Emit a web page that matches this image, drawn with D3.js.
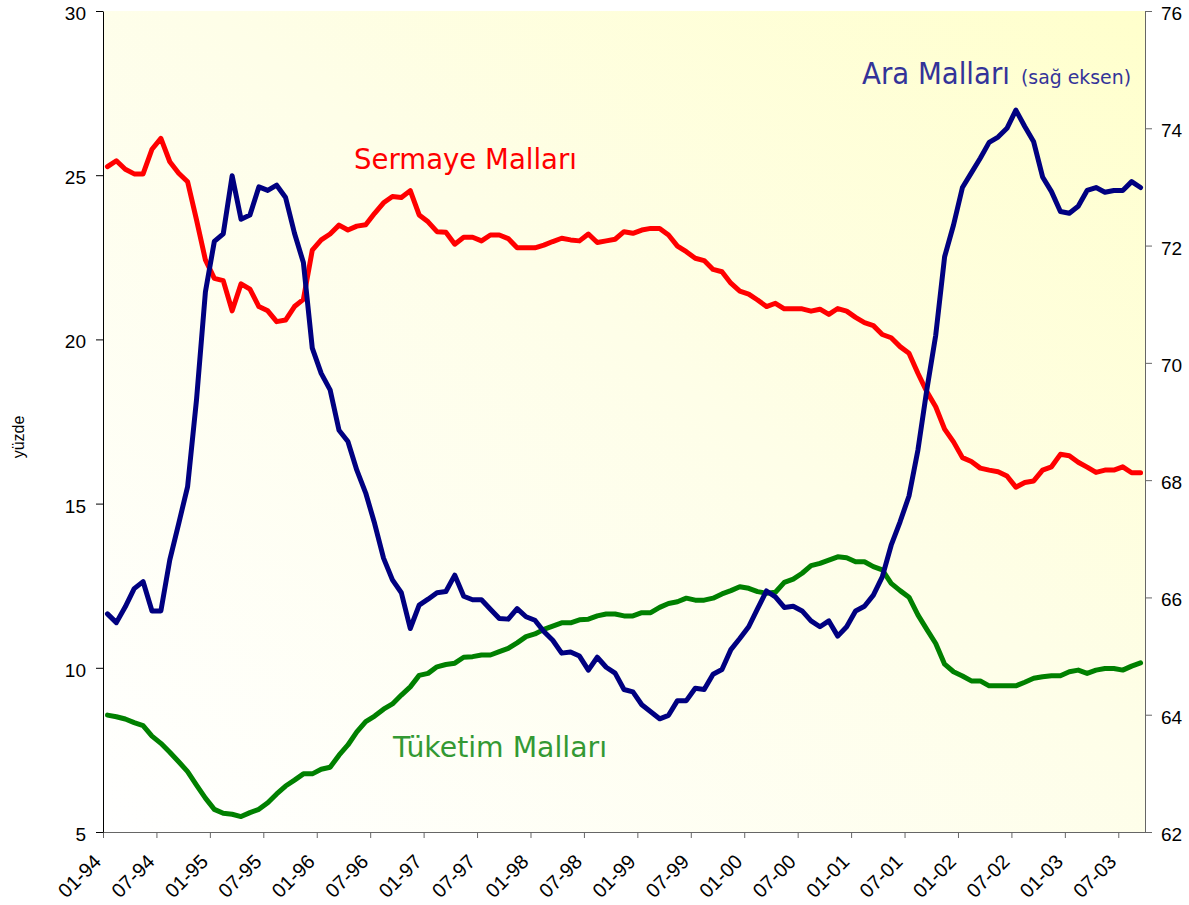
<!DOCTYPE html>
<html>
<head>
<meta charset="utf-8">
<script src="https://cdn.jsdelivr.net/npm/d3@7"></script>
<style>
  body { margin: 0; background: #fff; }
  svg { display: block; }
  .tick text { font-family: "Liberation Sans", Arial, sans-serif; fill: #000; }
</style>
</head>
<body>
<div id="chart"></div>
<script>
// monthly data, 01-94 .. 09-03
const startMonth = new Date(1994, 0, 1);
const tickLabels = ["01-94", "07-94", "01-95", "07-95", "01-96", "07-96", "01-97", "07-97",
  "01-98", "07-98", "01-99", "07-99", "01-00", "07-00", "01-01", "07-01",
  "01-02", "07-02", "01-03", "07-03"];

// Sermaye Malları (sol eksen, %)
const sermaye = [
  25.26, 25.44, 25.18, 25.04, 25.04, 25.79, 26.12, 25.41, 25.06, 24.80,
  23.64, 22.42, 21.86, 21.79, 20.87, 21.69, 21.53, 21.00, 20.87, 20.54,
  20.59, 21.00, 21.22, 22.72, 23.03, 23.21, 23.48, 23.33, 23.45, 23.49,
  23.84, 24.16, 24.35, 24.32, 24.53, 23.79, 23.58, 23.28, 23.26, 22.90,
  23.11, 23.11, 23.00, 23.18, 23.18, 23.07, 22.79, 22.79, 22.79, 22.87,
  22.98, 23.08, 23.03, 23.00, 23.21, 22.95, 23.00, 23.05, 23.28, 23.23,
  23.33, 23.38, 23.38, 23.18, 22.84, 22.67, 22.47, 22.40, 22.13, 22.06,
  21.71, 21.47, 21.38, 21.20, 21.00, 21.10, 20.93, 20.93, 20.93, 20.86,
  20.92, 20.76, 20.94, 20.86, 20.67, 20.51, 20.42, 20.15, 20.05, 19.78,
  19.58, 18.97, 18.41, 17.95, 17.27, 16.88, 16.40, 16.28, 16.08, 16.02,
  15.97, 15.84, 15.50, 15.64, 15.69, 16.02, 16.12, 16.50, 16.46, 16.26,
  16.11, 15.95, 16.02, 16.02, 16.12, 15.94, 15.94
];

// Tüketim Malları (sol eksen, %)
const tuketim = [
  8.56, 8.51, 8.44, 8.33, 8.24, 7.92, 7.70, 7.43, 7.14, 6.84,
  6.43, 6.03, 5.69, 5.57, 5.54, 5.47, 5.59, 5.69, 5.89, 6.16,
  6.40, 6.58, 6.77, 6.77, 6.91, 6.97, 7.34, 7.65, 8.05, 8.36,
  8.53, 8.74, 8.90, 9.17, 9.42, 9.77, 9.83, 10.03, 10.10, 10.14,
  10.32, 10.34, 10.39, 10.39, 10.49, 10.59, 10.76, 10.95, 11.03, 11.17,
  11.27, 11.37, 11.37, 11.46, 11.48, 11.58, 11.64, 11.64, 11.58, 11.58,
  11.68, 11.68, 11.84, 11.96, 12.01, 12.12, 12.06, 12.06, 12.12, 12.25,
  12.35, 12.47, 12.42, 12.32, 12.27, 12.30, 12.60, 12.70, 12.88, 13.11,
  13.18, 13.28, 13.38, 13.35, 13.23, 13.23, 13.08, 12.98, 12.57, 12.35,
  12.15, 11.61, 11.17, 10.74, 10.11, 9.88, 9.75, 9.60, 9.60, 9.45,
  9.45, 9.45, 9.45, 9.56, 9.68, 9.73, 9.76, 9.76, 9.88, 9.93,
  9.83, 9.93, 9.98, 9.98, 9.93, 10.05, 10.15
];

// Ara Malları (sağ eksen, %)
const ara = [
  65.72, 65.57, 65.84, 66.15, 66.27, 65.77, 65.77, 66.64, 67.26, 67.89,
  69.37, 71.21, 72.07, 72.20, 73.19, 72.45, 72.52, 73.00, 72.94, 73.03,
  72.82, 72.21, 71.71, 70.25, 69.82, 69.54, 68.85, 68.66, 68.17, 67.78,
  67.26, 66.67, 66.30, 66.08, 65.47, 65.87, 65.97, 66.08, 66.10, 66.38,
  66.02, 65.96, 65.96, 65.80, 65.64, 65.63, 65.81, 65.67, 65.61, 65.42,
  65.27, 65.05, 65.07, 65.00, 64.76, 64.98, 64.81, 64.71, 64.43, 64.39,
  64.17, 64.05, 63.93, 63.99, 64.24, 64.24, 64.45, 64.43, 64.69, 64.77,
  65.11, 65.30, 65.50, 65.81, 66.11, 66.01, 65.83, 65.85, 65.77, 65.60,
  65.50, 65.60, 65.34, 65.50, 65.77, 65.85, 66.04, 66.35, 66.89, 67.29,
  67.73, 68.51, 69.54, 70.47, 71.81, 72.35, 72.99, 73.24, 73.49, 73.76,
  73.85, 74.00, 74.31, 74.03, 73.77, 73.17, 72.92, 72.58, 72.55, 72.67,
  72.94, 72.99, 72.91, 72.94, 72.94, 73.09, 72.99
];

const months = d3.timeMonths(startMonth, d3.timeMonth.offset(startMonth, sermaye.length));

const width = 1189;
const height = 905;
const margin = { top: 11, right: 44, bottom: 73, left: 103 };

const svg = d3.select("#chart").append("svg")
  .attr("width", width)
  .attr("height", height);

// category axis: ticks between months, points at month centers
const x = d3.scaleLinear()
  .domain([0, months.length])
  .range([margin.left, width - margin.right]);

const yLeft = d3.scaleLinear()
  .domain([5, 30])
  .range([height - margin.bottom, margin.top]);

const yRight = d3.scaleLinear()
  .domain([62, 76])
  .range([height - margin.bottom, margin.top]);

// plot area background
const defs = svg.append("defs");
const grad = defs.append("linearGradient")
  .attr("id", "bg")
  .attr("x1", 0).attr("y1", 1)
  .attr("x2", 1).attr("y2", 0);
grad.append("stop").attr("offset", 0).attr("stop-color", "#ffffff");
grad.append("stop").attr("offset", 0.55).attr("stop-color", "#fefee8");
grad.append("stop").attr("offset", 1).attr("stop-color", "#ffffcc");

svg.append("rect")
  .attr("x", margin.left)
  .attr("y", margin.top)
  .attr("width", width - margin.left - margin.right)
  .attr("height", height - margin.top - margin.bottom)
  .attr("fill", "url(#bg)");

// axes
const gx = svg.append("g")
  .attr("transform", `translate(0,${height - margin.bottom})`)
  .call(d3.axisBottom(x)
    .tickValues(d3.range(0, months.length, 6))
    .tickFormat((d, i) => tickLabels[i])
    .tickSize(6)
    .tickSizeOuter(0));
gx.select(".domain").attr("stroke", "#666");
gx.selectAll(".tick line").attr("stroke", "#666");
gx.selectAll(".tick text")
  .attr("font-size", 20)
  .attr("text-anchor", "end")
  .attr("transform", "translate(-6,26) rotate(-45)")
  .attr("x", 0)
  .attr("y", 0)
  .attr("dy", "0.35em");

const gl = svg.append("g")
  .attr("transform", `translate(${margin.left},0)`)
  .call(d3.axisLeft(yLeft)
    .tickValues(d3.range(5, 31, 5))
    .tickSize(7)
    .tickPadding(10)
    .tickSizeOuter(0));
gl.select(".domain").attr("stroke", "#000");
gl.selectAll(".tick line").attr("stroke", "#000");
gl.selectAll(".tick text").attr("font-size", 19).attr("dy", "0.45em");

const gr = svg.append("g")
  .attr("transform", `translate(${width - margin.right},0)`)
  .call(d3.axisRight(yRight)
    .tickValues(d3.range(62, 77, 2))
    .tickSize(7)
    .tickPadding(9)
    .tickSizeOuter(0));
gr.select(".domain").attr("stroke", "#666");
gr.selectAll(".tick line").attr("stroke", "#666");
gr.selectAll(".tick text").attr("font-size", 19).attr("dy", "0.45em");

svg.append("text")
  .attr("transform", `translate(24,437) rotate(-90)`)
  .attr("text-anchor", "middle")
  .attr("font-family", "Liberation Sans, Arial, sans-serif")
  .attr("font-size", 16)
  .text("yüzde");

// lines
const lineLeft = d3.line()
  .x((d, i) => x(i + 0.5))
  .y(d => yLeft(d));
const lineRight = d3.line()
  .x((d, i) => x(i + 0.5))
  .y(d => yRight(d));

const series = [
  { values: sermaye, line: lineLeft, color: "#ff0000" },
  { values: tuketim, line: lineLeft, color: "#008000" },
  { values: ara, line: lineRight, color: "#000080" },
];

svg.append("g")
  .selectAll("path")
  .data(series)
  .join("path")
  .attr("fill", "none")
  .attr("stroke", d => d.color)
  .attr("stroke-width", 5)
  .attr("stroke-linejoin", "round")
  .attr("stroke-linecap", "round")
  .attr("d", d => d.line(d.values));

// series labels
const labelFont = "'DejaVu Sans', Verdana, sans-serif";

svg.append("text")
  .attr("x", 354).attr("y", 169)
  .attr("font-family", labelFont)
  .attr("font-size", 29)
  .attr("fill", "#ff0000")
  .attr("textLength", 223)
  .attr("lengthAdjust", "spacingAndGlyphs")
  .text("Sermaye Malları");

svg.append("text")
  .attr("x", 393).attr("y", 757)
  .attr("font-family", labelFont)
  .attr("font-size", 29)
  .attr("fill", "#339933")
  .attr("textLength", 214)
  .attr("lengthAdjust", "spacingAndGlyphs")
  .text("Tüketim Malları");

svg.append("text")
  .attr("x", 862).attr("y", 84)
  .attr("font-family", labelFont)
  .attr("font-size", 30)
  .attr("fill", "#333399")
  .attr("textLength", 148)
  .attr("lengthAdjust", "spacingAndGlyphs")
  .text("Ara Malları");

svg.append("text")
  .attr("x", 1021).attr("y", 84)
  .attr("font-family", labelFont)
  .attr("font-size", 19)
  .attr("fill", "#333399")
  .attr("textLength", 110)
  .attr("lengthAdjust", "spacingAndGlyphs")
  .text("(sağ eksen)");
</script>
</body>
</html>
